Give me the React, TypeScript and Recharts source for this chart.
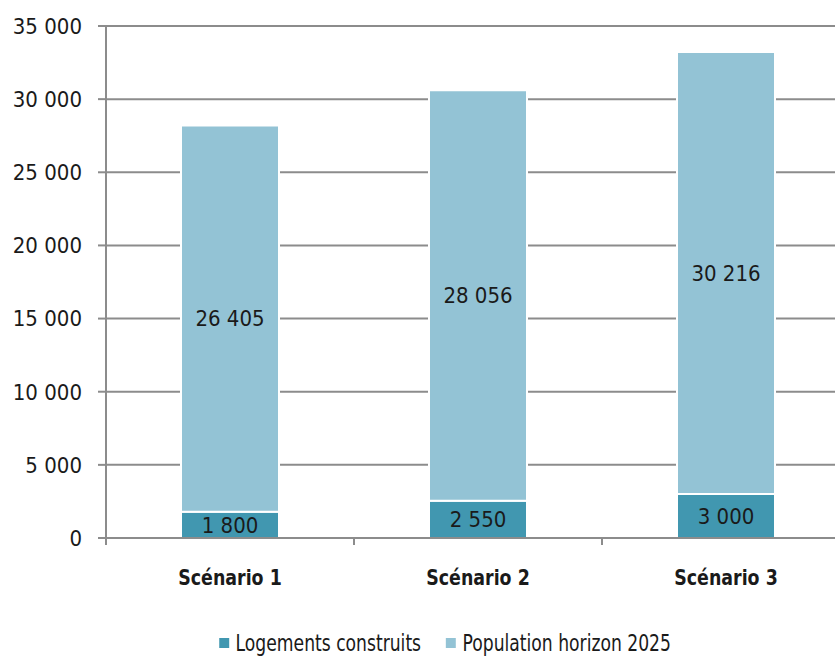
import { BarChart, Bar, XAxis, YAxis, CartesianGrid, Legend, LabelList } from 'recharts';

const scenarios = ['Scénario 1', 'Scénario 2', 'Scénario 3'];
const logements = [1800, 2550, 3000];
const population = [26405, 28056, 30216];
const yTicks = [0, 5000, 10000, 15000, 20000, 25000, 30000, 35000];

const FONT = '"DejaVu Sans Condensed", "Liberation Sans Narrow", "Liberation Sans", sans-serif';
const GRID = '#8c8c8c';
const DARK = '#4197b0';
const LIGHT = '#93c3d5';
const INK = '#1a1a1a';

const data = scenarios.map((name, i) => ({
  name,
  logements: logements[i],
  population: population[i],
}));

// "26405" -> "26 405"
const fmt = (v: number) => String(v).replace(/\B(?=(\d{3})+(?!\d))/g, ' ');

// category label + boundary tick below the axis
const CategoryTick = (props: any) => {
  const { x, y, payload } = props;
  const half = payload.offset ?? 0;
  return (
    <g>
      <line x1={x - half} x2={x - half} y1={y} y2={y + 7} stroke={GRID} strokeWidth={2} />
      <text
        transform={`translate(${x},${y + 40}) scale(0.88,1)`}
        textAnchor="middle"
        dominantBaseline="central"
        fontFamily={FONT}
        fontWeight="bold"
        fontSize={22}
        fill={INK}
      >
        {payload.value}
      </text>
    </g>
  );
};

const renderLegend = (props: any) => {
  const { payload } = props;
  return (
    <div
      style={{
        display: 'flex',
        justifyContent: 'center',
        gap: 30,
        fontFamily: FONT,
        fontSize: 23,
        color: INK,
        transform: 'translateX(20px) scaleX(0.83)',
      }}
    >
      {payload.map((entry: any) => (
        <span key={entry.value} style={{ display: 'flex', alignItems: 'center' }}>
          <span
            style={{
              display: 'inline-block',
              width: 12,
              height: 10,
              background: entry.color,
              marginRight: 8,
            }}
          />
          {entry.value}
        </span>
      ))}
    </div>
  );
};

export default function App() {
  return (
    <div style={{ position: 'absolute', left: 0, top: 0, width: 835, height: 660, overflow: 'hidden', background: '#fff' }}>
      <BarChart width={850} height={660} data={data} margin={{ top: 26, right: 0, left: 0, bottom: 0 }}>
        <CartesianGrid vertical={false} stroke={GRID} strokeWidth={2} />
        <XAxis
          dataKey="name"
          height={92}
          tickLine={false}
          tickSize={0}
          tickMargin={0}
          axisLine={{ stroke: GRID, strokeWidth: 2 }}
          tick={<CategoryTick />}
          interval={0}
        />
        <YAxis
          width={106}
          domain={[0, 35000]}
          ticks={yTicks}
          tickFormatter={fmt}
          tickSize={8}
          tickMargin={16}
          tickLine={{ stroke: GRID, strokeWidth: 2 }}
          axisLine={{ stroke: GRID, strokeWidth: 2 }}
          tick={{ fill: INK, fontSize: 22, fontFamily: FONT }}
        />
        <Legend verticalAlign="bottom" height={30} content={renderLegend} />
        <Bar
          dataKey="logements"
          name="Logements construits"
          stackId="a"
          fill={DARK}
          stroke="#fff"
          strokeWidth={2}
          barSize={98}
          isAnimationActive={false}
        >
          <LabelList dataKey="logements" position="center" formatter={fmt} fill={INK} fontSize={22} fontFamily={FONT} />
        </Bar>
        <Bar
          dataKey="population"
          name="Population horizon 2025"
          stackId="a"
          fill={LIGHT}
          stroke="#fff"
          strokeWidth={2}
          barSize={98}
          isAnimationActive={false}
        >
          <LabelList dataKey="population" position="center" formatter={fmt} fill={INK} fontSize={22} fontFamily={FONT} />
        </Bar>
      </BarChart>
    </div>
  );
}
